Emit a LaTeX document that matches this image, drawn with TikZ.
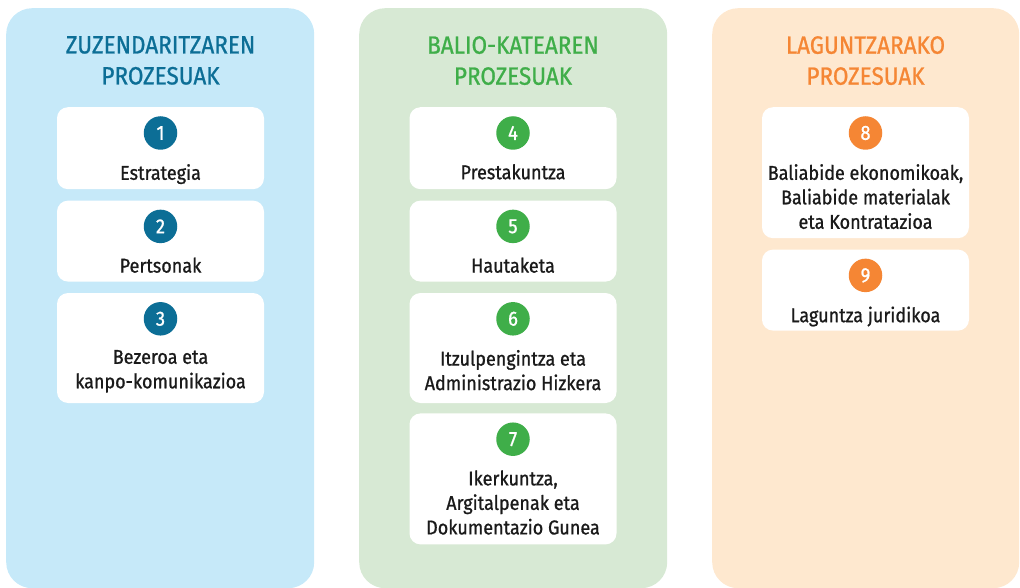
\documentclass[tikz,border=0pt]{standalone}
\usepackage{fontspec}
\setmainfont{Fira Sans}[FakeStretch=0.9, FakeBold=0.9]
\usepackage{xcolor}
\usetikzlibrary{positioning}

\definecolor{zuzbg}{HTML}{C6E9F9}
\definecolor{baliobg}{HTML}{D7E9D4}
\definecolor{lagunbg}{HTML}{FEE8CF}
\definecolor{zuzcol}{HTML}{0C6E96}
\definecolor{baliocol}{HTML}{3FAE49}
\definecolor{laguncol}{HTML}{F58634}
\definecolor{textcol}{HTML}{1A1A1A}

\tikzset{
  column/.style={fill=#1, rounded corners=26pt, minimum width=308pt, minimum height=580pt, anchor=north west, inner sep=0pt},
  heading/.style={text=#1, align=center, anchor=north, inner sep=0pt, font=\fontsize{25}{31}\selectfont},
  card/.style={fill=white, rounded corners=11pt, minimum width=207pt, minimum height=#1, anchor=north, inner sep=0pt},
  num/.style={circle, fill=#1, text=white, minimum size=33.5pt, inner sep=0pt, font=\fontsize{20.5}{20.5}\selectfont},
  cardtext/.style={text=textcol, align=center, anchor=north, inner sep=0pt, font=\fontsize{20}{24.5}\selectfont}
}

\begin{document}
\begin{tikzpicture}[x=1pt,y=-1pt]
  \useasboundingbox (0,0) rectangle (1020,588);
  \node[column=zuzbg] (zuz) at (6,8) {};
  \node[column=baliobg] (balio) at (359,8) {};
  \node[column=lagunbg, minimum width=307pt] (lagun) at (712,8) {};

  \node[heading=zuzcol] (h1) at (160.5,36) {ZUZENDARITZAREN\\PROZESUAK};
  \node[heading=baliocol] (h2) at (513,36) {BALIO-KATEAREN\\PROZESUAK};
  \node[heading=laguncol] (h3) at (865.5,36) {LAGUNTZARAKO\\PROZESUAK};

  \node[card=82pt] (b1) at (160.5,107) {};
  \node[card=81pt, below=11pt of b1] (b2) {};
  \node[card=110pt, below=11pt of b2] (b3) {};
  \node[card=82pt] (b4) at (513,107) {};
  \node[card=81pt, below=11pt of b4] (b5) {};
  \node[card=110pt, below=11pt of b5] (b6) {};
  \node[card=131pt, below=10pt of b6] (b7) {};
  \node[card=131pt] (b8) at (865.5,107) {};
  \node[card=81pt, below=11pt of b8] (b9) {};

  \node[num=zuzcol] (n1) at ([yshift=-26pt]b1.north) {1};
  \node[num=zuzcol] (n2) at ([yshift=-26pt]b2.north) {2};
  \node[num=zuzcol] (n3) at ([yshift=-26pt]b3.north) {3};
  \node[num=baliocol] (n4) at ([yshift=-26pt]b4.north) {4};
  \node[num=baliocol] (n5) at ([yshift=-26pt]b5.north) {5};
  \node[num=baliocol] (n6) at ([yshift=-26pt]b6.north) {6};
  \node[num=baliocol] (n7) at ([yshift=-26pt]b7.north) {7};
  \node[num=laguncol] (n8) at ([yshift=-26pt]b8.north) {8};
  \node[num=laguncol] (n9) at ([yshift=-26pt]b9.north) {9};

  \node[cardtext] (t1) at ([yshift=-57pt]b1.north) {Estrategia};
  \node[cardtext] (t2) at ([yshift=-57pt]b2.north) {Pertsonak};
  \node[cardtext] (t3) at ([yshift=-57pt]b3.north) {Bezeroa eta\\kanpo-komunikazioa};
  \node[cardtext] (t4) at ([yshift=-57pt]b4.north) {Prestakuntza};
  \node[cardtext] (t5) at ([yshift=-57pt]b5.north) {Hautaketa};
  \node[cardtext] (t6) at ([yshift=-57pt]b6.north) {Itzulpengintza eta\\Administrazio Hizkera};
  \node[cardtext] (t7) at ([yshift=-57pt]b7.north) {Ikerkuntza,\\Argitalpenak eta\\Dokumentazio Gunea};
  \node[cardtext] (t8) at ([yshift=-57pt]b8.north) {Baliabide ekonomikoak,\\Baliabide materialak\\eta Kontratazioa};
  \node[cardtext] (t9) at ([yshift=-57pt]b9.north) {Laguntza juridikoa};
\end{tikzpicture}
\end{document}
